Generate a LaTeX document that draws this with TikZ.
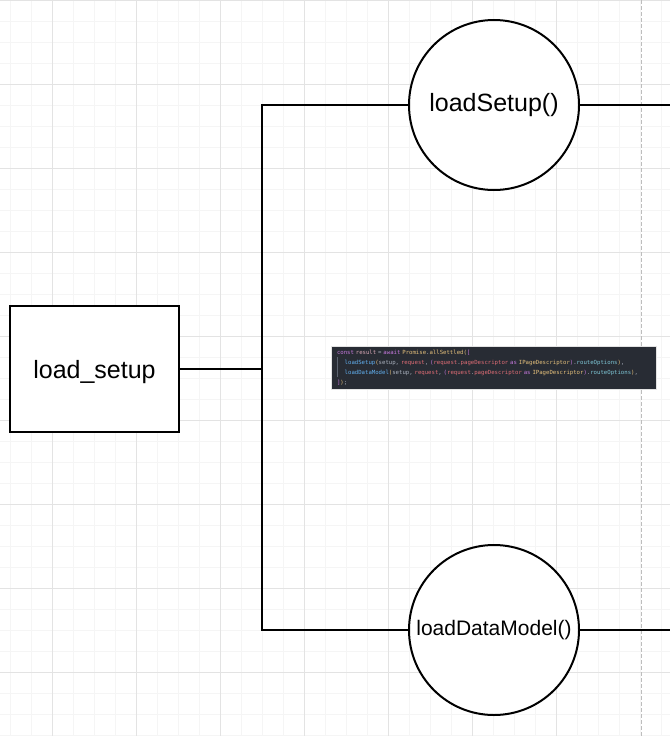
\documentclass[tikz,border=0pt]{standalone}
\usepackage{fontspec}
\setmainfont{Liberation Sans}
\setmonofont{DejaVu Sans Mono}
\usetikzlibrary{positioning}

\definecolor{gridminor}{HTML}{F5F5F5}
\definecolor{gridmajor}{HTML}{E3E3E3}
\definecolor{pageedge}{HTML}{BDBDBD}
\definecolor{codebg}{HTML}{282C34}
\definecolor{codeplain}{HTML}{ABB2BF}
\definecolor{codekw}{HTML}{C678DD}
\definecolor{codevar}{HTML}{E06C75}
\definecolor{codelight}{HTML}{D8A7B5}
\definecolor{codefn}{HTML}{61AFEF}
\definecolor{codecls}{HTML}{E5C07B}
\definecolor{codeprop}{HTML}{7FC8D8}
\definecolor{codeguide}{HTML}{5C6370}

\newcommand{\ck}[1]{\textcolor{codekw}{#1}}
\newcommand{\cv}[1]{\textcolor{codevar}{#1}}
\newcommand{\cl}[1]{\textcolor{codelight}{#1}}
\newcommand{\cf}[1]{\textcolor{codefn}{#1}}
\newcommand{\cc}[1]{\textcolor{codecls}{#1}}
\newcommand{\cp}[1]{\textcolor{codeprop}{#1}}
\newcommand{\cx}[1]{\textcolor{codeplain}{#1}}

\begin{document}
\begin{tikzpicture}[x=1pt,y=-1pt,line width=2pt]
\tikzstyle{block}=[draw,rectangle,fill=white,line width=2pt,minimum width=169pt,minimum height=126pt,text height=18pt,text depth=0pt,font=\fontsize{25}{30}\selectfont]
\tikzstyle{fncall}=[draw,circle,fill=white,line width=2pt,minimum size=170pt,inner sep=0pt,font=\fontsize{25}{30}\selectfont]
\tikzstyle{wire}=[draw,black,line width=2pt]
\tikzstyle{snippet}=[fill=codebg,draw=gridmajor,line width=0.6pt,minimum width=325pt,minimum height=43pt,text width=313pt,inner xsep=6pt,align=left,font=\ttfamily\fontsize{5.65}{10}\selectfont]

\useasboundingbox (0,0) rectangle (670,736);
\clip (0,0) rectangle (670,736);

% grid
\foreach \gx in {10,31,...,670} \draw[gridminor,line width=0.8pt] (\gx,0) -- (\gx,736);
\foreach \gy in {0,21,...,736} \draw[gridminor,line width=0.8pt] (0,\gy) -- (670,\gy);
\foreach \gx in {52,136,...,556} \draw[gridmajor,line width=0.8pt] (\gx,0) -- (\gx,736);
\foreach \gy in {0,84,...,736} \draw[gridmajor,line width=0.8pt] (0,\gy) -- (670,\gy);
\draw[pageedge,line width=0.9pt,dash pattern=on 4pt off 2pt] (641,0) -- (641,736);

\node[block]  (loadsetup) at (94.5,369) {load\_setup};
\node[fncall] (setup) at (494,105) {loadSetup()};
\node[fncall,font=\fontsize{21}{25}\selectfont] (model) [below of=setup,node distance=525pt] {loadDataModel()};

\node[snippet] (code) at (493.5,367.5) {%
\ck{const} \cl{result} \cx{=} \ck{await} \cc{Promise}\cx{.}\cc{allSettled}\cc{(}\ck{[}\\
\hspace*{7.7pt}\cf{loadSetup}\cc{(}\cx{setup,} \cv{request}\cx{,} \ck{(}\cv{request}\cx{.}\cv{pageDescriptor} \ck{as} \cc{IPageDescriptor}\ck{)}\cx{.}\cp{routeOptions}\cc{)}\cx{,}\\
\hspace*{7.7pt}\cf{loadDataModel}\cc{(}\cx{setup,} \cv{request}\cx{,} \ck{(}\cv{request}\cx{.}\cv{pageDescriptor} \ck{as} \cc{IPageDescriptor}\ck{)}\cx{.}\cp{routeOptions}\cc{)}\cx{,}\\
\ck{]}\cc{)}\cx{;}};
\draw[codeguide,line width=0.7pt] (337.5,357) -- (337.5,377);

\coordinate (split) at (262,369);
\coordinate (setupend) at (670,105);
\coordinate (modelend) at (670,630);

\path[every edge/.style=wire]
(loadsetup) edge (split)
(setup) edge (setupend)
(model) edge (modelend)
;
\draw[wire] (split) |- (setup);
\draw[wire] (split) |- (model);
\end{tikzpicture}
\end{document}
